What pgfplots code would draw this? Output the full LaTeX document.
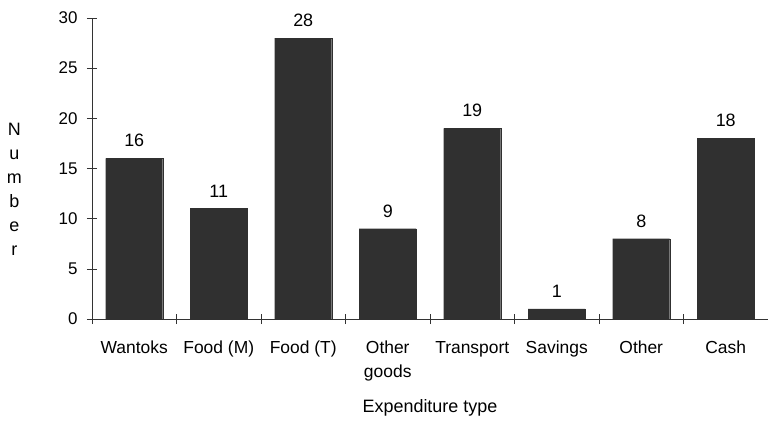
\documentclass[border=0pt]{standalone}
\usepackage{pgfplots}
\pgfplotsset{compat=1.18}
\usepackage{fontspec}
\setmainfont{Liberation Sans}
\definecolor{barfill}{HTML}{303030}
\begin{document}
\begin{tikzpicture}
\begin{axis}[
  scale only axis,
  width=676bp, height=301bp,
  xmin=0, xmax=8, ymin=0, ymax=30,
  axis x line=bottom, axis y line=left,
  axis line style={-, black!80, line width=0.6pt},
  ytick={0,5,...,30},
  xtick={0.5,1.5,...,7.5},
  xticklabels={Wantoks\strut, Food (M)\strut, Food (T)\strut, {Other\strut\\goods}, Transport\strut, Savings\strut, Other\strut, Cash\strut},
  minor xtick={0,1,...,8},
  major x tick style={draw=none},
  minor tick length=10bp,
  major tick length=10bp,
  tick align=center,
  tick style={black!80, line width=0.6pt},
  /pgf/number format/assume math mode=true,
  yticklabel style={font=\fontsize{17}{20}\selectfont, xshift=-6bp},
  xticklabel style={font=\fontsize{17.5}{24}\selectfont, align=center, anchor=north, yshift=-9bp},
  xlabel={Expenditure type},
  xlabel style={font=\fontsize{18}{20}\selectfont, at={(axis description cs:0.5,0)}, anchor=north, yshift=-77bp},
  ylabel={N\\u\\m\\b\\e\\r},
  ylabel style={font=\fontsize{18}{24}\selectfont, align=center, rotate=-90, anchor=center, at={(axis description cs:-0.115,0.43)}},
  nodes near coords,
  every node near coord/.append style={font=\fontsize{18}{20}\selectfont, anchor=south, yshift=8bp, black},
  clip=false,
]
\addplot[ybar, bar width=57bp, fill=barfill, draw=barfill] coordinates {
  (0.5,16) (1.5,11) (2.5,28) (3.5,9) (4.5,19) (5.5,1) (6.5,8) (7.5,18)
};
\end{axis}
\pgfresetboundingbox
\useasboundingbox (-92bp,-102bp) rectangle (676bp,319bp);
\end{tikzpicture}
\end{document}
